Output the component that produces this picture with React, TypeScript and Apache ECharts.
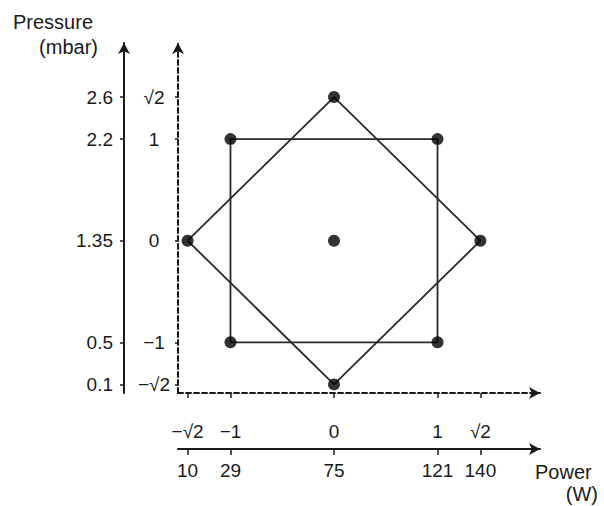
import React, { useEffect, useRef } from "react";
import * as echarts from "echarts";

const S = Math.SQRT2;
// coded factor levels and their tick labels
const codedLevels = [-S, -1, 0, 1, S];
const codedLabels = ["−√2", "−1", "0", "1", "√2"];
const powerLabels = ["10", "29", "75", "121", "140"]; // W
const pressureLabels = ["0.1", "0.5", "1.35", "2.2", "2.6"]; // mbar

// central composite design points (coded)
const factorialX = [-1, 1, 1, -1];
const factorialY = [-1, -1, 1, 1];
const axialX = [-S, 0, S, 0];
const axialY = [0, S, 0, -S];
const centerX = [0];
const centerY = [0];

const FONT = "'Liberation Sans', Arial, sans-serif";
const INK = "#1a1a1a";

function labelFor(list: string[]) {
  return (v: number) => {
    const i = codedLevels.findIndex((c) => Math.abs(c - v) < 1e-6);
    return i >= 0 ? list[i] : "";
  };
}

export default function App() {
  const ref = useRef<HTMLDivElement>(null);
  useEffect(() => {
    if (!ref.current) return;
    const chart = echarts.init(ref.current, null, { renderer: "svg" });
    const closed = (xs: number[], ys: number[]) => {
      const pts = xs.map((x, i) => [x, ys[i]]);
      return [...pts, pts[0]];
    };
    const allPts = [
      ...factorialX.map((x, i) => [x, factorialY[i]]),
      ...axialX.map((x, i) => [x, axialY[i]]),
      ...centerX.map((x, i) => [x, centerY[i]]),
    ];
    const xMin = -1.507, xMax = 1.99, yMin = -1.499, yMax = 1.946;
    const dashedLine = { color: INK, width: 2, type: [5, 3] as any };
    const solidLine = { color: INK, width: 2 };
    const lbl = { fontSize: 19, color: INK, fontFamily: FONT };
    chart.setOption({
      animation: false,
      backgroundColor: "#ffffff",
      grid: { left: 178, right: 64, top: 43, bottom: 113, containLabel: false, outerBoundsMode: "none" },
      xAxis: [
        {
          type: "value", position: "bottom", offset: 0, min: xMin, max: xMax,
          splitLine: { show: false },
          axisLine: { onZero: false, lineStyle: dashedLine, symbol: ["none", "arrow"], symbolSize: [9, 11] },
          axisTick: { customValues: codedLevels, length: 5, lineStyle: { color: INK, width: 1.5 } },
          axisLabel: { customValues: codedLevels, formatter: labelFor(codedLabels), margin: 29, ...lbl },
        },
        {
          type: "value", position: "bottom", offset: 56, min: xMin, max: xMax,
          splitLine: { show: false },
          axisLine: { onZero: false, lineStyle: solidLine, symbol: ["none", "arrow"], symbolSize: [9, 11] },
          axisTick: { customValues: codedLevels, length: 6, lineStyle: { color: INK, width: 1.5 } },
          axisLabel: { customValues: codedLevels, formatter: labelFor(powerLabels), margin: 12, ...lbl },
        },
      ],
      yAxis: [
        {
          type: "value", position: "left", offset: 0, min: yMin, max: yMax,
          splitLine: { show: false },
          axisLine: { onZero: false, lineStyle: dashedLine, symbol: ["none", "arrow"], symbolSize: [9, 11] },
          axisTick: { customValues: codedLevels, length: 3, lineStyle: { color: INK, width: 1.5 } },
          axisLabel: { customValues: codedLevels, formatter: labelFor(codedLabels), margin: 24, align: "center", ...lbl },
        },
        {
          type: "value", position: "left", offset: 54, min: yMin, max: yMax,
          splitLine: { show: false },
          axisLine: { onZero: false, lineStyle: solidLine, symbol: ["none", "arrow"], symbolSize: [9, 11] },
          axisTick: { customValues: codedLevels, length: 4, lineStyle: { color: INK, width: 1.5 } },
          axisLabel: { customValues: codedLevels, formatter: labelFor(pressureLabels), margin: 11, ...lbl },
        },
      ],
      series: [
        {
          type: "line", xAxisIndex: 0, yAxisIndex: 0, data: closed(factorialX, factorialY),
          showSymbol: false, symbol: "none", lineStyle: { color: "#2a2a2a", width: 1.8 },
        },
        {
          type: "line", xAxisIndex: 0, yAxisIndex: 0, data: closed(axialX, axialY),
          showSymbol: false, symbol: "none", lineStyle: { color: "#2a2a2a", width: 1.8 },
        },
        {
          type: "scatter", xAxisIndex: 0, yAxisIndex: 0, data: allPts,
          symbol: "circle", symbolSize: 12, itemStyle: { color: "#000" }, z: 5,
        },
      ],
      graphic: [
        { type: "text", left: 13, top: 12, style: { text: "Pressure", fontSize: 20, fill: INK, fontFamily: FONT } },
        { type: "text", right: 506, top: 37, style: { text: "(mbar)", fontSize: 20, fill: INK, fontFamily: FONT } },
        { type: "text", left: 535, top: 462, style: { text: "Power", fontSize: 20, fill: INK, fontFamily: FONT } },
        { type: "text", right: 6, top: 484, style: { text: "(W)", fontSize: 20, fill: INK, fontFamily: FONT } },
      ],
    });
    return () => chart.dispose();
  }, []);
  return <div ref={ref} style={{ position: "fixed", left: 0, top: 0, width: 604, height: 506 }} />;
}
